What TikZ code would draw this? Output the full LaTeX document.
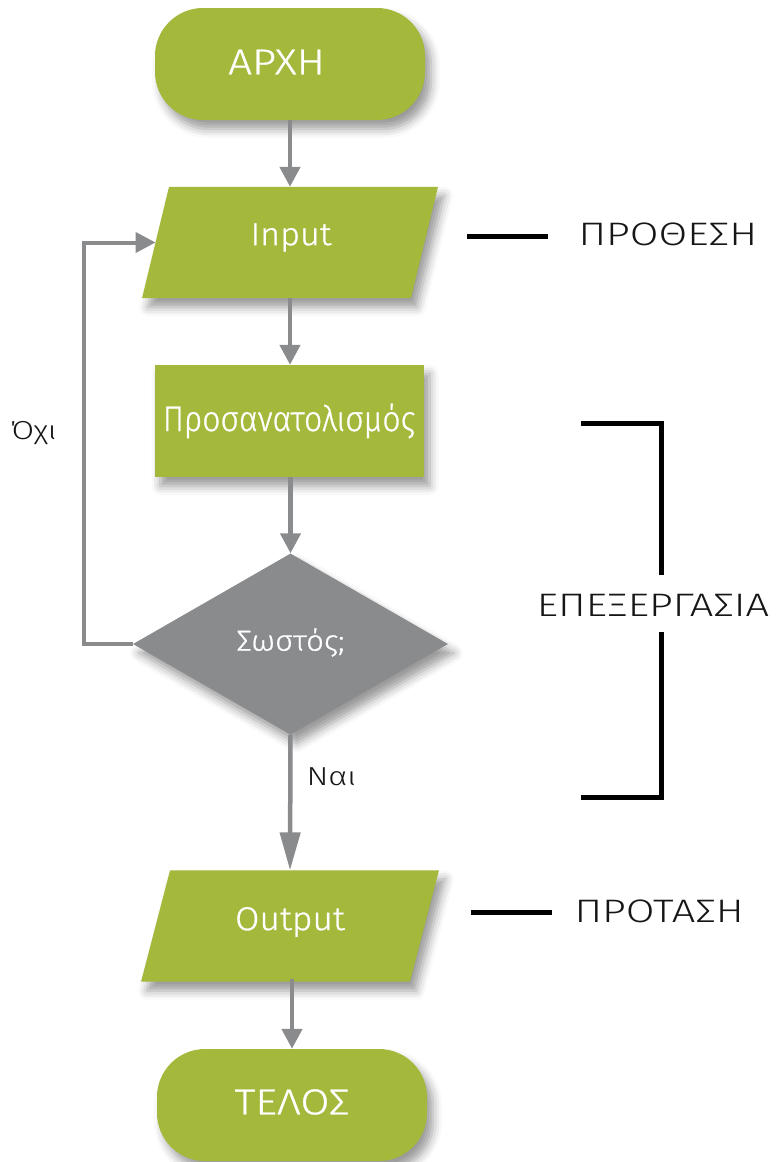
\documentclass[tikz,border=0pt]{standalone}
\usepackage{fontspec}
\setmainfont{Fira Sans Light}
\newfontfamily\termfont{Fira Sans Light}[FakeStretch=1.17,FakeBold=0.8]
\newfontfamily\iofont{Fira Sans Light}[FakeStretch=1.07,FakeBold=0.8]
\newfontfamily\narrowfont{Fira Sans Light}[FakeStretch=0.9,FakeBold=0.8]
\newfontfamily\notefont{Fira Sans Light}[FakeStretch=1.28]
\newfontfamily\branchfont{Fira Sans Light}[FakeStretch=1.25]
\usetikzlibrary{arrows.meta,shapes.geometric,shadows.blur}
\definecolor{leaf}{RGB}{164,184,60}
\definecolor{flowgray}{RGB}{138,139,141}
\definecolor{inkblack}{RGB}{22,22,22}
\pgfdeclarelayer{bg}
\pgfsetlayers{bg,main}
% lift a label inside its node without changing the node's size
\newcommand{\lift}[2]{\raisebox{#1}[\height][\depth]{#2}}
\begin{document}
\begin{tikzpicture}[x=1pt,y=-1pt,
  softshadow/.style={blur shadow={shadow xshift=6pt,shadow yshift=-9pt,shadow blur radius=9pt,shadow opacity=40}},
  terminal/.style={rectangle,rounded corners=48pt,fill=leaf,minimum width=270pt,minimum height=112pt,
    inner sep=0pt,text=white,font=\termfont\fontsize{36}{40}\selectfont,softshadow},
  process/.style={rectangle,fill=leaf,minimum width=269pt,minimum height=112pt,
    inner sep=0pt,text=white,font=\narrowfont\fontsize{35.5}{38}\selectfont,softshadow},
  io/.style={rectangle,minimum width=268.5pt,minimum height=111pt,
    inner sep=0pt,text=white,font=\iofont\fontsize{32}{36}\selectfont},
  iofill/.style={fill=leaf,softshadow},
  decision/.style={diamond,fill=flowgray,minimum width=315pt,minimum height=181pt,
    inner sep=0pt,text=white,font=\iofont\fontsize{29}{32}\selectfont,softshadow},
  flow/.style={draw=flowgray,line width=4.5pt,-{Triangle[width=20pt,length=20pt]}},
  longflow/.style={draw=flowgray,line width=4.5pt,-{Triangle[width=20pt,length=38pt]}},
  loopflow/.style={draw=flowgray,line width=4pt,-{Triangle[width=20pt,length=20pt]}},
  branch/.style={text=inkblack,font=\branchfont\fontsize{26}{30}\selectfont},
  side/.style={text=inkblack,font=\notefont\fontsize{32.5}{36}\selectfont},
  bar/.style={draw=black,line width=5pt}
]
\useasboundingbox (0,0) rectangle (784,1162);

% main column
\node[terminal] (start) at (290,64) {\hspace*{-27pt}\lift{2pt}{ΑΡΧΗ}};
\node[io] (in) at (290,242.5) {\hspace*{2pt}\lift{5pt}{Input}};
\node[process] (orient) at (289,421) {Προσανατολισμός};
\node[decision] (check) at (290.5,644) {\lift{1.5pt}{Σωστός;}};
\node[io,font=\iofont\fontsize{33}{36}\selectfont] (out) at (290,926) {\lift{4pt}{Output}};
\node[terminal] (stop) at (292,1105) {\lift{3pt}{ΤΕΛΟΣ}};

% slanted bodies of the input/output boxes
\begin{pgfonlayer}{bg}
  \fill[iofill] ([xshift=13.5pt]in.north west) -- ([xshift=13.5pt]in.north east)
    -- ([xshift=-13.5pt]in.south east) -- ([xshift=-13.5pt]in.south west) -- cycle;
  \fill[iofill] ([xshift=14.5pt]out.north west) -- ([xshift=14.5pt]out.north east)
    -- ([xshift=-14.5pt]out.south east) -- ([xshift=-14.5pt]out.south west) -- cycle;
\end{pgfonlayer}

% connectors
\draw[flow] (start.south) -- (in.north);
\draw[flow] (in.south) -- (in.south |- orient.north);
\draw[flow] (orient.south -| check.north) -- (check.north);
\draw[longflow] (check.south) -- (out.north);
\draw[flow] (out.south) -- (out.south -| stop.north) -- (stop.north);
\draw[loopflow] (check.west) -- ++(-49,0) |- (in.west);

% branch labels
\node[branch] (no) at (33.5,433) {Όχι};
\node[branch,anchor=west] (yes) at (303,777) {Ναι};

% side notes
\node[side,anchor=west] (thesis) at (575,234) {ΠΡΟΘΕΣΗ};
\draw[bar] (467,236) -- (548,236);
\node[side] (proc) at (653,605.5) {ΕΠΕΞΕΡΓΑΣΙΑ};
\draw[bar] (581,423) -- (661,423) -- (661,575);
\draw[bar] (661,632) -- (661,797) -- (581,797);
\node[side,anchor=west] (result) at (571,911) {ΠΡΟΤΑΣΗ};
\draw[bar] (471,912) -- (552,912);
\end{tikzpicture}
\end{document}
